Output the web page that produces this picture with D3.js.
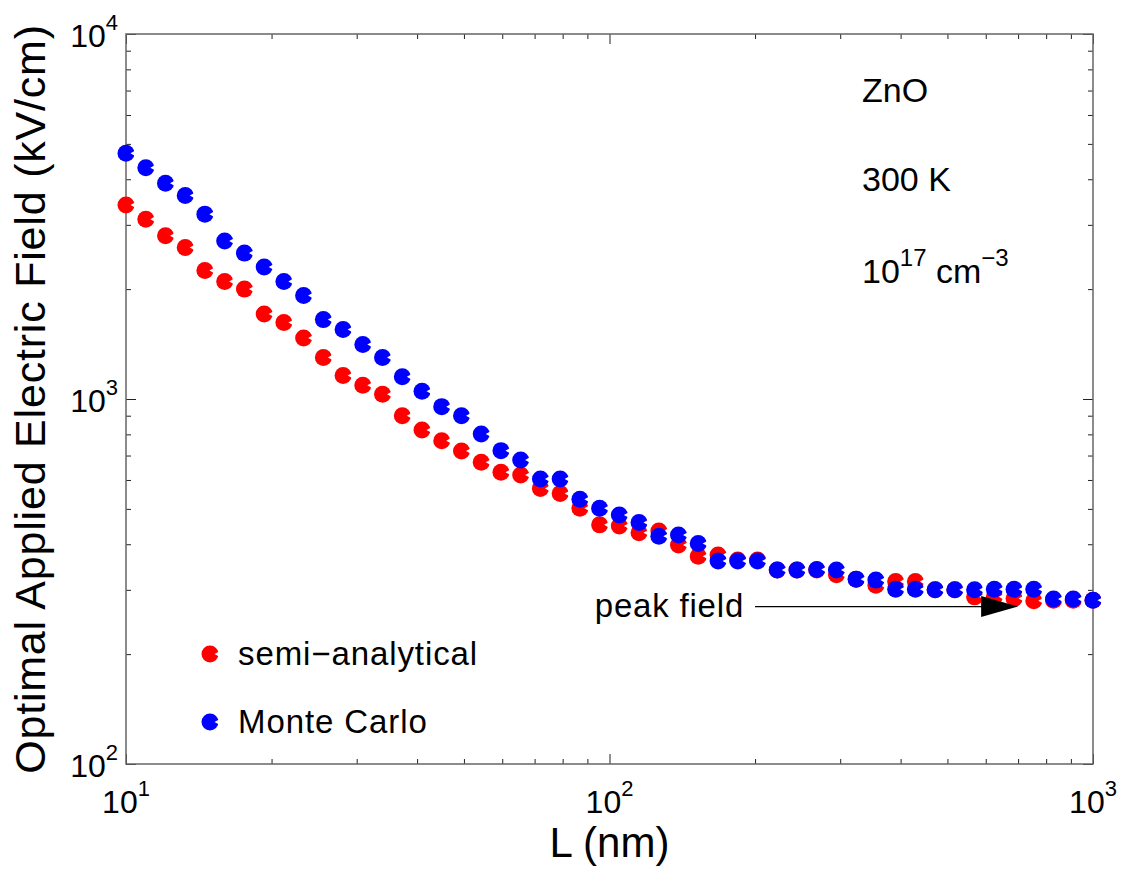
<!DOCTYPE html>
<html><head><meta charset="utf-8">
<script src="https://cdn.jsdelivr.net/npm/d3@7"></script>
<style>
body{margin:0;background:#fff}
svg{display:block}
text{font-family:"Liberation Sans",Arial,Helvetica,sans-serif;fill:#000}
</style>
</head><body>
<svg id="chart" width="1124" height="869"></svg>
<script>
// ---- data ----
const L = [10, 10.99, 12.07, 13.26, 14.56, 16.0, 17.58, 19.31, 21.21, 23.30,
  25.60, 28.12, 30.89, 33.93, 37.28, 40.95, 44.98, 49.42, 54.29, 59.64,
  65.51, 71.97, 79.06, 86.85, 95.41, 104.8, 115.1, 126.5, 138.9, 152.6,
  167.7, 184.2, 202.4, 222.3, 244.2, 268.3, 294.7, 323.7, 355.6, 390.7,
  429.2, 471.5, 517.9, 569.0, 625.1, 686.7, 754.3, 828.6, 910.3, 1000];
const semiAnalytical = [3400, 3110, 2800, 2600, 2250, 2100, 2000, 1710, 1620, 1470,
  1300, 1160, 1090, 1030, 900, 822, 769, 720, 671, 630,
  619, 569, 551, 502, 452, 449, 430, 435, 398, 371,
  374, 362, 362, 340, 340, 340, 330, 321, 309, 316,
  316, 300, 300, 287, 287, 284, 280, 281, 281, 281];
const monteCarlo = [4710, 4300, 3900, 3610, 3210, 2710, 2510, 2300, 2100, 1920,
  1650, 1550, 1410, 1300, 1150, 1050, 953, 900, 802, 722,
  681, 604, 604, 531, 502, 481, 459, 421, 424, 402,
  360, 360, 360, 340, 340, 341, 340, 321, 319, 301,
  301, 300, 300, 300, 301, 301, 301, 283, 283, 281];
const seriesNames = ["semi\u2212analytical", "Monte Carlo"];
const seriesColors = ["#ff0000", "#0000ff"];
const xTicks = [10, 100, 1000];
const xTickExp = ["1", "2", "3"];
const yTicks = [100, 1000, 10000];
const yTickExp = ["2", "3", "4"];
const annotations = ["ZnO", "300 K"];
const arrowFrom = [200, 270], arrowTo = [700, 270];

// ---- layout ----
const X0 = 126, X1 = 1093, Y0 = 34, Y1 = 764;
const svg = d3.select("#chart");
const x = d3.scaleLog().domain([10, 1000]).range([X0, X1]);
const y = d3.scaleLog().domain([100, 10000]).range([Y1, Y0]);

function minors(lo, hi) { const o = []; for (let d = lo; d < hi; d *= 10) for (let k = 2; k <= 9; k++) o.push(d * k); return o; }
const xMinor = minors(10, 1000), yMinor = minors(100, 10000);

function ax(gen, scale, vals, size, tr) {
  const g = svg.append("g").attr("transform", tr)
    .call(gen(scale).tickValues(vals).tickSize(size).tickSizeOuter(0).tickFormat(""));
  g.select(".domain").remove();
  g.selectAll(".tick line").attr("stroke", "#222").attr("stroke-width", 1);
}
ax(d3.axisBottom, x, xMinor, -5, `translate(0,${Y1})`);
ax(d3.axisBottom, x, xTicks, -10, `translate(0,${Y1})`);
ax(d3.axisTop, x, xMinor, -5, `translate(0,${Y0})`);
ax(d3.axisTop, x, xTicks, -10, `translate(0,${Y0})`);
ax(d3.axisLeft, y, yMinor, -5, `translate(${X0},0)`);
ax(d3.axisLeft, y, yTicks, -10, `translate(${X0},0)`);
ax(d3.axisRight, y, yMinor, -5, `translate(${X1},0)`);
ax(d3.axisRight, y, yTicks, -10, `translate(${X1},0)`);

// frame
svg.append("rect").attr("x", X0).attr("y", Y0).attr("width", X1 - X0).attr("height", Y1 - Y0)
  .attr("fill", "none").attr("stroke", "#666").attr("stroke-width", 1.5);

// tick labels
xTicks.forEach((v, i) => {
  const t = svg.append("text").attr("x", x(v)).attr("y", Y1 + 49).attr("text-anchor", "middle").style("font-size", "32px");
  t.append("tspan").text("10");
  t.append("tspan").attr("dy", -17).style("font-size", "22px").text(xTickExp[i]);
});
yTicks.forEach((v, i) => {
  const t = svg.append("text").attr("x", 118).attr("y", y(v) + 13).attr("text-anchor", "end").style("font-size", "32px");
  t.append("tspan").text("10");
  t.append("tspan").attr("dy", -17).style("font-size", "22px").text(yTickExp[i]);
});

// axis titles
svg.append("text").attr("x", (X0 + X1) / 2).attr("y", 857).attr("text-anchor", "middle")
  .style("font-size", "42px").text("L (nm)");
svg.append("text").attr("transform", `translate(45,${(Y0 + Y1) / 2}) rotate(-90)`).attr("text-anchor", "middle")
  .style("font-size", "43px").style("letter-spacing", "0.8px").text("Optimal Applied Electric Field (kV/cm)");

// markers
const R = 8.5;
function marker(g, cx, cy, color) {
  g.append("circle").attr("cx", cx).attr("cy", cy).attr("r", R).attr("fill", color);
  g.append("path").attr("transform", `translate(${cx},${cy})`)
    .attr("d", `M${R + 1},-2.8 L${R - 4},0 L${R + 1},2.8 Z`).attr("fill", "#fff");
}
[semiAnalytical, monteCarlo].forEach((vals, s) => {
  const g = svg.append("g");
  vals.forEach((v, i) => marker(g, x(L[i]), y(v), seriesColors[s]));
});

// arrow annotation
const ax1 = x(arrowFrom[0]), ax2 = x(arrowTo[0]), ay = y(arrowTo[1]);
svg.append("line").attr("x1", ax1).attr("x2", ax2 - 30).attr("y1", ay).attr("y2", ay).attr("stroke", "#000").attr("stroke-width", 1.3);
svg.append("path").attr("d", `M${ax2},${ay} L${ax2 - 37},${ay - 10.5} L${ax2 - 37},${ay + 10.5} Z`).attr("fill", "#000");
svg.append("text").attr("x", ax1 - 11).attr("y", ay + 10.5).attr("text-anchor", "end")
  .style("font-size", "33px").style("letter-spacing", "0.8px").text("peak field");

// legend
seriesNames.forEach((n, i) => {
  const cy = 654 + i * 68;
  marker(svg, 210, cy, seriesColors[i]);
  svg.append("text").attr("x", 238).attr("y", cy + 11).style("font-size", "33px").style("letter-spacing", "0.9px").text(n);
});

// text annotations
annotations.forEach((a, i) => {
  svg.append("text").attr("x", 862).attr("y", 102 + i * 89).style("font-size", "34px").text(a);
});
const dt = svg.append("text").attr("x", 862).attr("y", 283).style("font-size", "34px");
dt.append("tspan").text("10");
dt.append("tspan").attr("dy", -17).style("font-size", "24px").text("17");
dt.append("tspan").attr("dy", 17).text(" cm");
dt.append("tspan").attr("dy", -17).style("font-size", "24px").text("\u22123");
</script>
</body></html>
